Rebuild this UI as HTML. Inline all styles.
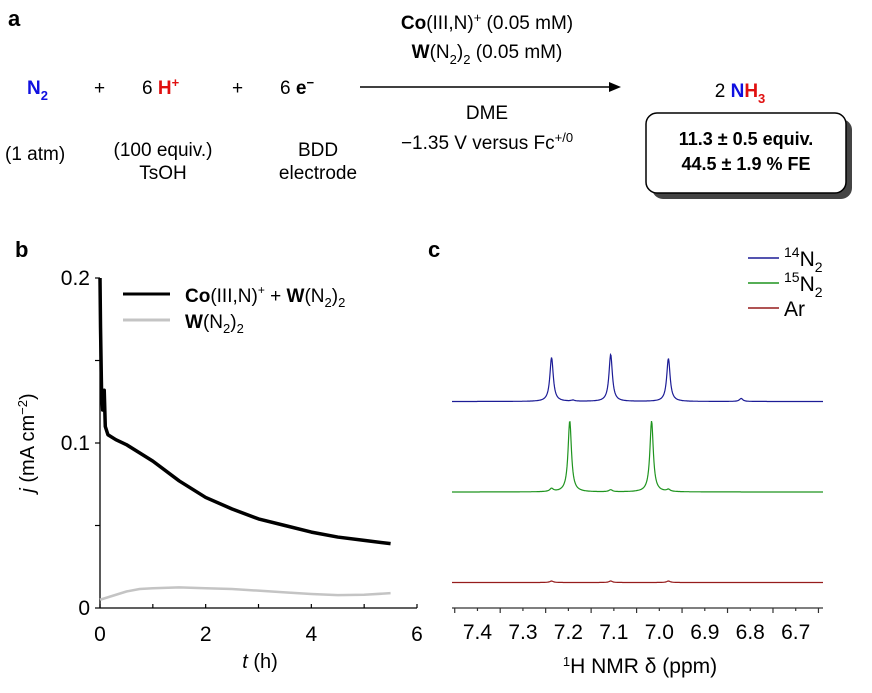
<!DOCTYPE html>
<html><head><meta charset="utf-8"><style>
body{margin:0;background:#fff;}
svg{display:block;font-family:"Liberation Sans",Arial,sans-serif;}
</style></head><body>
<svg id="fig" width="872" height="693" viewBox="0 0 872 693">
<!-- Panel a -->
<g font-size="19">
<text x="8" y="26" font-weight="bold" font-size="22">a</text>
<text x="27" y="94" fill="#1010e0" font-weight="bold">N<tspan font-size="13" dy="6">2</tspan></text>
<text x="94" y="94">+</text>
<text x="142" y="94">6 <tspan fill="#e01010" font-weight="bold">H</tspan><tspan fill="#e01010" font-weight="bold" font-size="13" dy="-7">+</tspan></text>
<text x="232" y="94">+</text>
<text x="280" y="94">6 <tspan font-weight="bold">e</tspan><tspan font-weight="bold" font-size="13" dy="-7">−</tspan></text>
<line x1="360" y1="87" x2="615" y2="87" stroke="#000" stroke-width="1.5"/>
<polygon points="621,87 609,82 609,92" fill="#000"/>
<text x="487" y="29" text-anchor="middle"><tspan font-weight="bold">Co</tspan>(III,N)<tspan font-size="13" dy="-7">+</tspan><tspan dy="7"> (0.05 mM)</tspan></text>
<text x="487" y="58" text-anchor="middle"><tspan font-weight="bold">W</tspan>(N<tspan font-size="13" dy="6">2</tspan><tspan dy="-6">)</tspan><tspan font-size="13" dy="6">2</tspan><tspan dy="-6"> (0.05 mM)</tspan></text>
<text x="487" y="119" text-anchor="middle">DME</text>
<text x="487" y="149" text-anchor="middle">−1.35 V versus Fc<tspan font-size="13" dy="-7">+/0</tspan></text>
<text x="740" y="97" text-anchor="middle">2 <tspan fill="#1010e0" font-weight="bold">N</tspan><tspan fill="#e01010" font-weight="bold">H</tspan><tspan fill="#e01010" font-weight="bold" font-size="13" dy="6">3</tspan></text>
<text x="5" y="160">(1 atm)</text>
<text x="163" y="156" text-anchor="middle">(100 equiv.)</text>
<text x="163" y="179" text-anchor="middle">TsOH</text>
<text x="318" y="156" text-anchor="middle">BDD</text>
<text x="318" y="179" text-anchor="middle">electrode</text>
<rect x="652" y="119" width="200" height="80" rx="11" fill="#444"/>
<rect x="646" y="113" width="200" height="80" rx="11" fill="#fff" stroke="#000" stroke-width="1.5"/>
<text x="746" y="145" text-anchor="middle" font-weight="bold" font-size="18">11.3 ± 0.5 equiv.</text>
<text x="746" y="170" text-anchor="middle" font-weight="bold" font-size="18">44.5 ± 1.9 % FE</text>
</g>
<!-- Panel b -->
<g id="chartb">
<text x="15" y="257" font-weight="bold" font-size="22">b</text>
</g>
<!-- Panel c -->
<g id="chartc">
<text x="428" y="257" font-weight="bold" font-size="22">c</text>
</g>
</svg>
<script>
// ---- Chart b data ----
const bTimes = [0, 0.01, 0.03, 0.05, 0.07, 0.08, 0.1, 0.15, 0.3, 0.5, 0.75, 1, 1.5, 2, 2.5, 3, 3.5, 4, 4.5, 5, 5.5];
const bCoW =   [0.2, 0.17, 0.13, 0.12, 0.125, 0.132, 0.11, 0.105, 0.102, 0.099, 0.094, 0.089, 0.077, 0.067, 0.06, 0.054, 0.05, 0.046, 0.043, 0.041, 0.039];
const gTimes = [0, 0.25, 0.5, 0.75, 1, 1.5, 2, 2.5, 3, 3.5, 4, 4.5, 5, 5.5];
const bW =     [0.005, 0.0075, 0.01, 0.0115, 0.012, 0.0125, 0.012, 0.0115, 0.0105, 0.0095, 0.0085, 0.0078, 0.008, 0.009];
const bXTicks = [0, 2, 4, 6];
const bYTicks = [0, 0.1, 0.2];
// ---- Chart c data ----
const cPeaksN14 = [[7.237, 44], [7.107, 47], [6.98, 43], [6.82, 3], [7.19, 1]];
const cPeaksN15 = [[7.197, 71], [7.017, 71], [7.237, 3], [7.107, 2], [6.98, 2]];
const cPeaksAr  = [[7.237, 1.5], [7.107, 1.5], [6.98, 1.5]];
const cXTicks = [7.4, 7.3, 7.2, 7.1, 7.0, 6.9, 6.8, 6.7];

const NS = "http://www.w3.org/2000/svg";
function mk(parent, tag, attrs, text){const e=document.createElementNS(NS,tag);for(const k in attrs)e.setAttribute(k,attrs[k]);if(text!==undefined)e.textContent=text;parent.appendChild(e);return e;}

// Chart b
const gb = document.getElementById('chartb');
const bx = t => 100 + t * (317/6);
const by = v => 608 - v * 1650;
let el;
el = mk(gb,'line',{x1:100,y1:by(0.2),x2:100,y2:608,stroke:'#000','stroke-width':1.3});
 
el = mk(gb,'line',{x1:100,y1:608,x2:417,y2:608,stroke:'#000','stroke-width':1.3});
 
for (let v=0; v<=0.2001; v+=0.05){
  el = mk(gb,'line',{x1:95,y1:by(v),x2:100,y2:by(v),stroke:'#000','stroke-width':1.2});
   
}
bYTicks.forEach(v=>{
  el = mk(gb,'text',{x:90,y:by(v)+7,'text-anchor':'end','font-size':21}, v===0?'0':String(v));
   
});
for (let t=0;t<=6;t++){
  el = mk(gb,'line',{x1:bx(t),y1:604,x2:bx(t),y2:608,stroke:'#000','stroke-width':1.2});
   
}
bXTicks.forEach(t=>{
  el = mk(gb,'text',{x:bx(t),y:641,'text-anchor':'middle','font-size':21},String(t));
   
});
el = mk(gb,'text',{x:260,y:668,'text-anchor':'middle','font-size':20});
el.innerHTML='<tspan font-style="italic">t</tspan> (h)';
 
el = mk(gb,'text',{x:0,y:0,'text-anchor':'middle','font-size':20,transform:'translate(34,443) rotate(-90)'});
el.innerHTML='<tspan font-style="italic">j</tspan> (mA cm<tspan font-size="13" dy="-7">−2</tspan><tspan dy="7">)</tspan>';
 
el = mk(gb,'polyline',{points:gTimes.map((t,i)=>bx(t)+','+by(bW[i])).join(' '),fill:'none',stroke:'#c4c4c4','stroke-width':2.5});
 
el = mk(gb,'polyline',{points:bTimes.map((t,i)=>bx(t)+','+by(bCoW[i])).join(' '),fill:'none',stroke:'#000','stroke-width':3.5,'stroke-linejoin':'round'});
 
el = mk(gb,'line',{x1:123,y1:294,x2:170,y2:294,stroke:'#000','stroke-width':3});
 
el = mk(gb,'line',{x1:123,y1:320,x2:170,y2:320,stroke:'#c4c4c4','stroke-width':3});
 
el = mk(gb,'text',{x:185,y:302,'font-size':19});
el.innerHTML='<tspan font-weight="bold">Co</tspan>(III,N)<tspan font-size="12" dy="-8">+</tspan><tspan dy="8"> + </tspan><tspan font-weight="bold">W</tspan>(N<tspan font-size="13" dy="5">2</tspan><tspan dy="-5">)</tspan><tspan font-size="13" dy="5">2</tspan>';
 
el = mk(gb,'text',{x:185,y:328,'font-size':19});
el.innerHTML='<tspan font-weight="bold">W</tspan>(N<tspan font-size="13" dy="5">2</tspan><tspan dy="-5">)</tspan><tspan font-size="13" dy="5">2</tspan>';
 

// Chart c
const gc = document.getElementById('chartc');
const cL=7.456, cR=6.64, cx0=452, cx1=823;
const cx = p => cx0 + (cL-p)/(cL-cR)*(cx1-cx0);
el = mk(gc,'line',{x1:cx0,y1:608,x2:cx1,y2:608,stroke:'#333','stroke-width':1.3});
 
for (let k=0;k<=16;k++){
  const p = 7.45 - k*0.05;
  if (p < cR) break;
  el = mk(gc,'line',{x1:cx(p),y1:608,x2:cx(p),y2:k%2?611:613,stroke:'#333','stroke-width':1.2});
   
}
cXTicks.forEach(p=>{
  el = mk(gc,'text',{x:cx(p),y:639,'text-anchor':'middle','font-size':21},p.toFixed(1));
   
});
el = mk(gc,'text',{x:640,y:673,'text-anchor':'middle','font-size':21});
el.innerHTML='<tspan font-size="13" dy="-7">1</tspan><tspan dy="7">H NMR δ (ppm)</tspan>';
 
function spectrum(peaks, base, color, name){
  const pts=[];
  for(let x=cx0;x<=cx1;x+=0.5){
    const p = cL - (x-cx0)/(cx1-cx0)*(cL-cR);
    let y=0;
    peaks.forEach(([c,h])=>{const w=0.0045; y+=h/(1+((p-c)/w)**2);});
    pts.push(x.toFixed(1)+','+(base-y).toFixed(1));
  }
  const e = mk(gc,'polyline',{points:pts.join(' '),fill:'none',stroke:color,'stroke-width':1.2});
  
  
}
spectrum(cPeaksN14, 401.5, '#1c1c96', 'spectrum-14n2');
spectrum(cPeaksN15, 492, '#1f941f', 'spectrum-15n2');
spectrum(cPeaksAr, 582.5, '#961c1c', 'spectrum-ar');
const legC = [['#1c1c96','14','N','legend-entry-14n2'],['#1f941f','15','N','legend-entry-15n2'],['#961c1c','','Ar','legend-entry-ar']];
legC.forEach((d,i)=>{
  const y = 258 + i*25;
  el = mk(gc,'line',{x1:748,y1:y,x2:779,y2:y,stroke:d[0],'stroke-width':1.5});
   
  el = mk(gc,'text',{x:784,y:y+8,'font-size':21});
  el.innerHTML = d[1] ? '<tspan font-size="14" dy="-9">'+d[1]+'</tspan><tspan dy="9">N</tspan><tspan font-size="14" dy="6">2</tspan>' : 'Ar';
   
});
</script>
</body></html>
